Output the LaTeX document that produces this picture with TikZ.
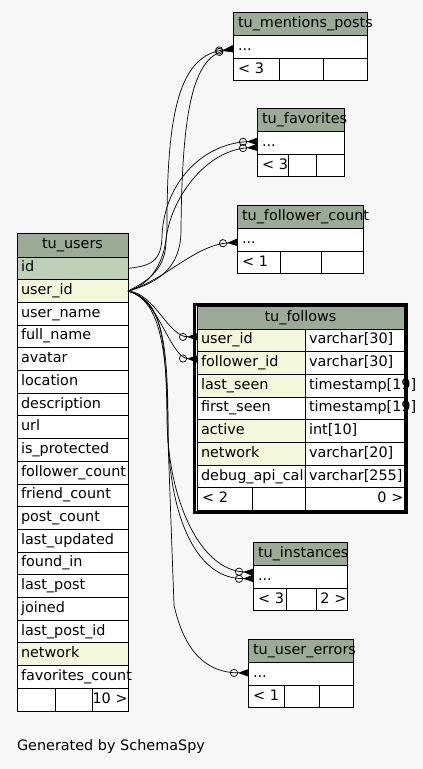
\documentclass[tikz,border=0pt]{standalone}
\usepackage{fontspec}
\setmainfont{DejaVu Sans}
\usetikzlibrary{arrows.meta}
\definecolor{bgcol}{HTML}{F7F7F7}
\definecolor{headcol}{HTML}{9BAB96}
\definecolor{pkcol}{HTML}{BED1B8}
\definecolor{fkcol}{HTML}{F4F7DA}
\hyphenpenalty=10000
\newcommand{\tabfont}{\fontsize{14.4}{17}\selectfont}

\begin{document}
\begin{tikzpicture}[x=1pt, y=-1pt, font=\tabfont,
    every node/.style={anchor=north west, inner ysep=0pt, outer sep=0pt, text height=10.5pt, text depth=3.5pt},
    box/.style={draw, line width=0.9pt, fill=white, minimum height=22.7pt, inner xsep=5pt, align=left},
    head/.style={box, fill=headcol, minimum height=23.5pt},
    pk/.style={box, fill=pkcol},
    fk/.style={box, fill=fkcol},
    rnum/.style={box, inner xsep=0.5pt, align=right},
    crow/.style={line width=0.7pt, -{Circle[open,length=8pt,width=8pt]Triangle[reversed,length=10pt,width=7pt]}}]
\useasboundingbox (0,0) rectangle (423,769);
\fill[bgcol] (0,0) rectangle (423,769);

% tu_users
\node[head, align=center, text width=103pt, inner xsep=4pt, minimum height=24pt] (u0) at (17,233) {tu\_users};
\node[pk, text width=103pt, inner xsep=4pt] (u1) at (u0.south west) {id};
\node[fk, text width=103pt, inner xsep=4pt] (u2) at (u1.south west) {user\_id};
\node[box, text width=103pt, inner xsep=4pt] (u3) at (u2.south west) {user\_name};
\node[box, text width=103pt, inner xsep=4pt] (u4) at (u3.south west) {full\_name};
\node[box, text width=103pt, inner xsep=4pt] (u5) at (u4.south west) {avatar};
\node[box, text width=103pt, inner xsep=4pt] (u6) at (u5.south west) {location};
\node[box, text width=103pt, inner xsep=4pt] (u7) at (u6.south west) {description};
\node[box, text width=103pt, inner xsep=4pt] (u8) at (u7.south west) {url};
\node[box, text width=103pt, inner xsep=4pt] (u9) at (u8.south west) {is\_protected};
\node[box, text width=103pt, inner xsep=4pt] (u10) at (u9.south west) {follower\_count};
\node[box, text width=103pt, inner xsep=4pt] (u11) at (u10.south west) {friend\_count};
\node[box, text width=103pt, inner xsep=4pt] (u12) at (u11.south west) {post\_count};
\node[box, text width=103pt, inner xsep=4pt] (u13) at (u12.south west) {last\_updated};
\node[box, text width=103pt, inner xsep=4pt] (u14) at (u13.south west) {found\_in};
\node[box, text width=103pt, inner xsep=4pt] (u15) at (u14.south west) {last\_post};
\node[box, text width=103pt, inner xsep=4pt] (u16) at (u15.south west) {joined};
\node[box, text width=103pt, inner xsep=4pt] (u17) at (u16.south west) {last\_post\_id};
\node[fk, text width=103pt, inner xsep=4pt] (u18) at (u17.south west) {network};
\node[box, text width=103pt, inner xsep=4pt] (u19) at (u18.south west) {favorites\_count};
\node[box, text width=30pt, inner xsep=4pt] (ua) at (u19.south west) {};
\node[box, text width=29pt, inner xsep=4pt] (ub) at (ua.north east) {};
\node[rnum, text width=35pt] (uc) at (ub.north east) {10~>};

% tu_mentions_posts
\node[head, text width=124pt] (mp0) at (233,12) {tu\_mentions\_posts};
\node[box, text width=124pt] (mp1) at (mp0.south west) {...};
\node[box, text width=36pt] (mpa) at (mp1.south west) {<~3};
\node[box, text width=34pt] (mpb) at (mpa.north east) {};
\node[box, text width=34pt] (mpc) at (mpb.north east) {};

% tu_favorites
\node[head, text width=77pt] (fv0) at (257,108) {tu\_favorites};
\node[box, text width=77pt] (fv1) at (fv0.south west) {...};
\node[box, text width=21pt] (fva) at (fv1.south west) {<~3};
\node[box, text width=18pt] (fvb) at (fva.north east) {};
\node[box, text width=18pt] (fvc) at (fvb.north east) {};

% tu_follower_count
\node[head, text width=116pt] (fc0) at (237,205) {tu\_follower\_count};
\node[box, text width=116pt] (fc1) at (fc0.south west) {...};
\node[box, text width=33pt] (fca) at (fc1.south west) {<~1};
\node[box, text width=31pt] (fcb) at (fca.north east) {};
\node[box, text width=32pt] (fcc) at (fcb.north east) {};

% tu_follows
\node[head, align=center, text width=199pt, inner xsep=4pt, minimum height=22.5pt] (f0) at (197,306.5) {tu\_follows};
\node[fk, text width=100pt, inner xsep=4pt] (f1) at (f0.south west) {user\_id};
\node[box, text width=91pt, inner xsep=4pt] (t1) at (f1.north east) {varchar[30]};
\node[fk, text width=100pt, inner xsep=4pt] (f2) at (f1.south west) {follower\_id};
\node[box, text width=91pt, inner xsep=4pt] (t2) at (f2.north east) {varchar[30]};
\node[fk, text width=100pt, inner xsep=4pt] (f3) at (f2.south west) {last\_seen};
\node[box, text width=91pt, inner xsep=4pt] (t3) at (f3.north east) {timestamp[19]};
\node[box, text width=100pt, inner xsep=4pt] (f4) at (f3.south west) {first\_seen};
\node[box, text width=91pt, inner xsep=4pt] (t4) at (f4.north east) {timestamp[19]};
\node[fk, text width=100pt, inner xsep=4pt] (f5) at (f4.south west) {active};
\node[box, text width=91pt, inner xsep=4pt] (t5) at (f5.north east) {int[10]};
\node[fk, text width=100pt, inner xsep=4pt] (f6) at (f5.south west) {network};
\node[box, text width=91pt, inner xsep=4pt] (t6) at (f6.north east) {varchar[20]};
\node[box, text width=100pt, inner xsep=4pt] (f7) at (f6.south west) {debug\_api\_call};
\node[box, text width=91pt, inner xsep=4pt] (t7) at (f7.north east) {varchar[255]};
\node[box, text width=45pt] (fa) at (f7.south west) {<~2};
\node[box, text width=45pt, inner xsep=4pt] (fb) at (fa.north east) {};
\node[rnum, text width=98pt] (fc) at (fb.north east) {0~>};
\draw[line width=3pt] ([shift={(-2.3,-1.8)}]f0.north west) rectangle ([shift={(2,1.8)}]fc.south east);

% tu_instances
\node[head, text width=84pt] (i0) at (253,542) {tu\_instances};
\node[box, text width=84pt] (i1) at (i0.south west) {...};
\node[box, text width=23pt] (ia) at (i1.south west) {<~3};
\node[box, text width=20pt] (ib) at (ia.north east) {};
\node[rnum, text width=30pt] (ic) at (ib.north east) {2~>};

% tu_user_errors
\node[head, text width=95pt] (e0) at (248,639) {tu\_user\_errors};
\node[box, text width=95pt] (e1) at (e0.south west) {...};
\node[box, text width=26pt] (ea) at (e1.south west) {<~1};
\node[box, text width=25pt] (eb) at (ea.north east) {};
\node[box, text width=24pt] (ec) at (eb.north east) {};

% relationships
\draw[crow] (u2.east) .. controls (150,285) and (167,262) .. (167,225) .. controls (167,110) and (180,55) .. ([yshift=-2pt]mp1.west);
\draw[crow] (u2.east) .. controls (158,283) and (181,268) .. (181,230) .. controls (182,115) and (192,58) .. ([yshift=-2pt]mp1.west);
\draw[crow] (u1.east) .. controls (150,266) and (162,262) .. (162,235) .. controls (165,180) and (205,143) .. ([yshift=1.5pt]fv1.west);
\draw[crow] (u2.east) .. controls (150,280) and (166,268) .. (166,240) .. controls (170,200) and (205,150) .. ([yshift=-4.5pt]fv1.west);
\draw[crow] (u2.east) .. controls (165,280) and (195,245) .. ([yshift=-2.5pt]fc1.west);
\draw[crow] (u2.east) .. controls (155,293) and (168,337) .. ([yshift=3.5pt]f1.west);
\draw[crow] (u2.east) .. controls (158,296) and (170,358) .. ([yshift=4pt]f2.west);
\draw[crow] (u2.east) .. controls (160,300) and (166,330) .. (167,420) .. controls (168,500) and (200,570) .. ([yshift=4.5pt]i1.west);
\draw[crow] (u2.east) .. controls (162,300) and (168,340) .. (168,430) .. controls (169,520) and (198,580) .. ([yshift=-1.5pt]i1.west);
\draw[crow] (u2.east) .. controls (158,300) and (168,340) .. (168,440) -- (174,605) .. controls (184,650) and (205,673) .. ([yshift=1pt]e1.west);

\node[anchor=west, inner xsep=0pt] (credit) at (17,747) {Generated by SchemaSpy};
\end{tikzpicture}
\end{document}
